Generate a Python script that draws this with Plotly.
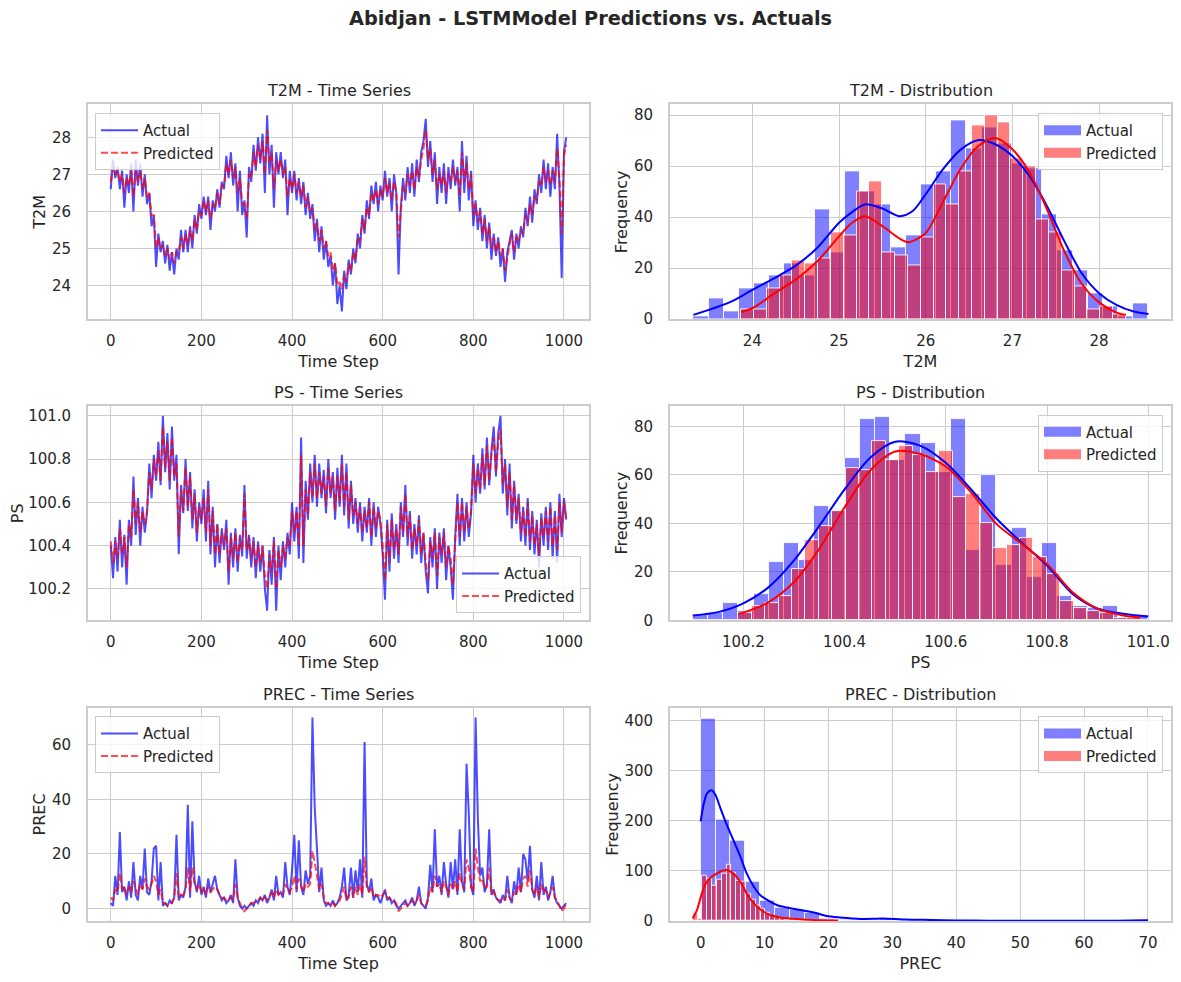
import numpy as np
import plotly.graph_objects as go
from plotly.subplots import make_subplots

# --- Global look (seaborn whitegrid style) ---
PAGE_W, PAGE_H = 1181, 982
OFF = 8                        # default body margin of the html page
Y_SCALE = 0.992                # vertical squeeze seen in the captured page
W, H = PAGE_W - OFF, PAGE_H
TEXT = "#262626"
GRID = "#cccccc"
FONT = "DejaVu Sans"

# --- Time series, sampled every 5th time step ---
T2M_ACTUAL = [
    26.6, 27.4, 26.9, 27.2, 26.6, 27.1, 26.1, 27.0, 26.5, 27.3,
    26.0, 27.4, 26.7, 27.3, 26.4, 27.0, 26.2, 26.5, 25.6, 25.9,
    24.5, 25.4, 24.9, 25.2, 24.6, 25.1, 24.4, 24.9, 24.3, 25.0,
    24.7, 25.5, 24.9, 25.5, 24.9, 25.6, 25.0, 25.9, 25.4, 26.2,
    25.8, 26.4, 25.9, 26.4, 25.5, 26.3, 26.0, 26.6, 26.1, 26.8,
    26.6, 27.5, 26.9, 27.6, 26.7, 27.3, 26.0, 27.1, 25.9, 26.3,
    25.3, 27.2, 26.8, 27.8, 27.1, 28.0, 27.3, 28.1, 26.5, 28.6,
    27.0, 27.8, 26.1, 27.6, 27.0, 27.6, 26.9, 27.4, 25.9, 27.1,
    26.5, 27.1, 26.3, 26.9, 26.2, 26.8, 25.9, 26.5, 25.8, 26.2,
    25.2, 25.8, 24.9, 25.6, 24.7, 25.2, 24.5, 24.8, 24.0, 24.6,
    23.5, 24.0, 23.3, 24.4, 23.9, 24.7, 24.3, 25.0, 24.6, 25.4,
    25.0, 25.9, 25.4, 26.3, 25.8, 26.7, 26.2, 26.8, 26.0, 26.7,
    26.3, 27.1, 26.4, 26.9, 26.0, 27.0, 26.5, 24.3, 26.1, 26.9,
    26.3, 27.2, 26.5, 27.3, 26.4, 27.4, 26.8, 27.6, 27.9, 28.5,
    27.2, 27.9, 26.8, 27.6, 26.2, 27.2, 26.5, 27.3, 26.2, 27.2,
    26.6, 27.4, 26.7, 27.2, 26.0, 27.9, 26.5, 27.5, 26.3, 27.1,
    25.6, 26.3, 25.5, 26.1, 25.2, 25.9, 25.0, 25.7, 24.7, 25.4,
    24.8, 25.3, 24.5, 25.0, 24.1, 24.9, 25.2, 25.5, 24.7, 25.4,
    25.0, 25.6, 25.3, 26.1, 25.6, 26.4, 25.7, 26.6, 26.2, 27.0,
    26.5, 27.4, 26.6, 27.3, 26.4, 27.2, 26.6, 28.1, 26.7, 24.2,
    27.6, 28.0,
]
T2M_PRED = [
    26.8, 27.2, 27.0, 27.1, 26.8, 27.0, 26.5, 26.9, 26.7, 27.1,
    26.4, 27.1, 26.8, 27.1, 26.6, 26.9, 26.4, 26.5, 25.9, 25.9,
    25.0, 25.3, 25.0, 25.1, 24.8, 25.0, 24.7, 24.9, 24.6, 24.9,
    24.9, 25.3, 25.0, 25.4, 25.1, 25.5, 25.2, 25.8, 25.5, 26.0,
    25.9, 26.3, 26.0, 26.3, 25.8, 26.2, 26.1, 26.5, 26.2, 26.7,
    26.7, 27.3, 27.0, 27.4, 26.9, 27.2, 26.5, 26.9, 26.2, 26.2,
    25.8, 27.0, 26.9, 27.6, 27.2, 27.8, 27.4, 27.9, 27.0, 28.2,
    27.3, 27.6, 26.6, 27.4, 27.1, 27.4, 27.0, 27.2, 26.4, 26.9,
    26.6, 27.0, 26.5, 26.8, 26.4, 26.7, 26.1, 26.4, 26.0, 26.1,
    25.5, 25.7, 25.2, 25.5, 25.0, 25.2, 24.8, 24.9, 24.4, 24.6,
    24.0, 24.1, 23.9, 24.3, 24.1, 24.6, 24.4, 24.9, 24.7, 25.3,
    25.2, 25.8, 25.5, 26.1, 25.9, 26.5, 26.3, 26.6, 26.2, 26.6,
    26.4, 26.9, 26.5, 26.8, 26.3, 26.8, 26.5, 25.3, 26.0, 26.7,
    26.5, 27.0, 26.7, 27.1, 26.6, 27.2, 26.9, 27.4, 27.7, 28.2,
    27.4, 27.7, 27.0, 27.4, 26.6, 27.0, 26.7, 27.1, 26.5, 27.0,
    26.8, 27.2, 26.8, 27.1, 26.4, 27.6, 26.8, 27.3, 26.6, 27.0,
    25.9, 26.2, 25.7, 26.0, 25.4, 25.8, 25.2, 25.6, 25.0, 25.3,
    24.9, 25.2, 24.8, 25.0, 24.4, 24.8, 25.1, 25.4, 24.9, 25.3,
    25.2, 25.5, 25.4, 25.9, 25.7, 26.2, 25.9, 26.4, 26.3, 26.8,
    26.7, 27.2, 26.8, 27.1, 26.7, 27.1, 26.8, 27.7, 26.9, 25.4,
    27.5, 27.8,
]
PS_ACTUAL = [
    100.40, 100.25, 100.44, 100.28, 100.52, 100.30, 100.45, 100.22, 100.52, 100.40,
    100.72, 100.45, 100.62, 100.40, 100.58, 100.46, 100.55, 100.78, 100.62, 100.82,
    100.70, 100.88, 100.68, 101.00, 100.74, 100.92, 100.66, 100.95, 100.70, 100.82,
    100.36, 100.68, 100.55, 100.80, 100.56, 100.74, 100.48, 100.66, 100.42, 100.60,
    100.50, 100.66, 100.42, 100.70, 100.36, 100.58, 100.30, 100.50, 100.32, 100.48,
    100.38, 100.52, 100.22, 100.46, 100.30, 100.48, 100.28, 100.45, 100.35, 100.68,
    100.34, 100.45, 100.30, 100.44, 100.25, 100.42, 100.28, 100.40, 100.20, 100.10,
    100.38, 100.22, 100.44, 100.10, 100.40, 100.24, 100.42, 100.30, 100.46, 100.36,
    100.60, 100.42, 100.58, 100.34, 100.90, 100.32, 100.70, 100.52, 100.78, 100.60,
    100.82, 100.58, 100.78, 100.62, 100.75, 100.55, 100.80, 100.62, 100.74, 100.52,
    100.76, 100.58, 100.82, 100.54, 100.78, 100.48, 100.70, 100.50, 100.62, 100.46,
    100.60, 100.42, 100.58, 100.46, 100.62, 100.40, 100.60, 100.44, 100.58, 100.50,
    100.36, 100.15, 100.52, 100.28, 100.55, 100.34, 100.50, 100.32, 100.60, 100.44,
    100.68, 100.40, 100.56, 100.34, 100.50, 100.36, 100.54, 100.32, 100.46, 100.28,
    100.18, 100.44, 100.30, 100.48, 100.20, 100.46, 100.32, 100.48, 100.24, 100.40,
    100.30, 100.15, 100.44, 100.64, 100.40, 100.62, 100.42, 100.60, 100.44, 100.55,
    100.82, 100.60, 100.78, 100.64, 100.85, 100.66, 100.90, 100.68, 100.84, 100.95,
    100.72, 100.92, 101.00, 100.64, 100.80, 100.54, 100.78, 100.48, 100.70, 100.50,
    100.64, 100.42, 100.58, 100.40, 100.62, 100.38, 100.56, 100.36, 100.52, 100.30,
    100.55, 100.40, 100.58, 100.38, 100.60, 100.34, 100.56, 100.32, 100.64, 100.44,
    100.62, 100.52,
]
PS_PRED = [
    100.42, 100.32, 100.42, 100.34, 100.48, 100.36, 100.44, 100.30, 100.50, 100.44,
    100.66, 100.50, 100.60, 100.46, 100.56, 100.50, 100.56, 100.74, 100.66, 100.80,
    100.72, 100.84, 100.70, 100.95, 100.76, 100.88, 100.70, 100.90, 100.72, 100.78,
    100.44, 100.66, 100.56, 100.76, 100.58, 100.72, 100.52, 100.64, 100.46, 100.58,
    100.52, 100.62, 100.46, 100.66, 100.40, 100.56, 100.36, 100.50, 100.36, 100.46,
    100.40, 100.48, 100.28, 100.44, 100.34, 100.46, 100.32, 100.44, 100.38, 100.64,
    100.38, 100.44, 100.34, 100.42, 100.30, 100.40, 100.32, 100.40, 100.26, 100.20,
    100.36, 100.28, 100.42, 100.20, 100.38, 100.30, 100.40, 100.34, 100.44, 100.40,
    100.56, 100.46, 100.56, 100.40, 100.82, 100.40, 100.66, 100.54, 100.74, 100.62,
    100.78, 100.62, 100.74, 100.64, 100.72, 100.58, 100.76, 100.64, 100.72, 100.56,
    100.72, 100.60, 100.78, 100.58, 100.74, 100.52, 100.68, 100.54, 100.60, 100.50,
    100.58, 100.46, 100.56, 100.48, 100.60, 100.44, 100.58, 100.48, 100.56, 100.52,
    100.40, 100.24, 100.50, 100.32, 100.52, 100.38, 100.48, 100.36, 100.58, 100.46,
    100.64, 100.44, 100.54, 100.38, 100.48, 100.40, 100.52, 100.36, 100.46, 100.32,
    100.24, 100.42, 100.34, 100.46, 100.26, 100.44, 100.36, 100.46, 100.30, 100.40,
    100.34, 100.22, 100.42, 100.60, 100.44, 100.60, 100.46, 100.58, 100.48, 100.56,
    100.78, 100.64, 100.76, 100.66, 100.82, 100.68, 100.86, 100.70, 100.82, 100.90,
    100.74, 100.88, 100.94, 100.68, 100.78, 100.58, 100.74, 100.52, 100.68, 100.52,
    100.62, 100.46, 100.56, 100.44, 100.60, 100.42, 100.54, 100.40, 100.50, 100.36,
    100.53, 100.44, 100.56, 100.42, 100.58, 100.40, 100.54, 100.38, 100.60, 100.46,
    100.60, 100.52,
]
PREC_ACTUAL = [
    2, 1, 12, 5, 28, 6, 8, 3, 10, 4,
    17, 5, 3, 12, 7, 22, 6, 5, 10, 22,
    23, 3, 17, 1, 2, 1, 3, 2, 4, 27,
    3, 5, 4, 8, 38, 4, 32, 10, 6, 12,
    5, 8, 4, 11, 6, 9, 12, 7, 5, 3,
    4, 2, 3, 5, 2, 18, 4, 1, 0, 1,
    0, 1, 2, 1, 3, 2, 4, 3, 5, 2,
    4, 7, 3, 12, 5, 6, 4, 17, 8, 5,
    14, 27, 6, 25, 8, 5, 14, 9, 12, 70,
    37, 22, 6, 15, 3, 1, 2, 1, 3, 1,
    2, 4, 8, 15, 3, 5, 15, 4, 14, 6,
    18, 4, 61, 9, 6, 11, 3, 5, 4, 2,
    5, 7, 3, 4, 2, 3, 1, 0, 1, 2,
    3, 1, 2, 4, 1, 3, 8, 2, 1, 0,
    4, 16, 6, 29, 8, 12, 5, 17, 9, 4,
    17, 7, 18, 5, 29, 10, 6, 53, 35, 8,
    5, 70, 33, 12, 15, 6, 9, 29, 5, 7,
    4, 3, 2, 5, 3, 12, 4, 2, 10, 5,
    15, 6, 20, 18, 10, 23, 7, 4, 12, 3,
    17, 5, 8, 3, 6, 12, 4, 2, 1, 0,
    1, 2,
]
PREC_PRED = [
    4, 3, 7, 6, 13, 7, 8, 5, 8, 6,
    10, 7, 5, 9, 7, 11, 8, 7, 9, 12,
    10, 5, 7, 2, 2, 1, 2, 2, 4, 13,
    4, 5, 5, 7, 15, 6, 15, 9, 7, 9,
    6, 7, 5, 8, 6, 7, 8, 7, 5, 4,
    4, 3, 3, 4, 3, 9, 4, 2, 0, -1,
    0, 1, 2, 2, 3, 3, 4, 3, 4, 3,
    4, 6, 4, 7, 5, 6, 5, 9, 7, 6,
    8, 12, 7, 11, 8, 6, 9, 8, 9, 21,
    17, 12, 7, 9, 4, 2, 2, 1, 2, 1,
    2, 3, 5, 8, 3, 4, 8, 4, 8, 5,
    9, 5, 19, 8, 6, 8, 4, 5, 5, 4,
    5, 6, 4, 4, 3, 3, 2, -1, 0, 1,
    2, 1, 2, 3, 2, 3, 5, 2, 1, 1,
    3, 8, 6, 12, 8, 9, 6, 10, 8, 5,
    9, 7, 10, 6, 13, 9, 7, 18, 15, 8,
    6, 22, 15, 10, 11, 7, 8, 15, 5, 6,
    4, 3, 3, 4, 3, 7, 4, 3, 6, 5,
    9, 6, 11, 12, 8, 14, 7, 5, 8, 4,
    9, 6, 7, 4, 6, 8, 4, 3, 1, -1,
    0, 2,
]

# --- Histogram counts (30 bins over each series' own min..max) ---
T2M_ACT_RANGE = (23.32, 28.57)
T2M_ACT_COUNTS = [1, 8, 3, 12, 14, 17, 22, 17, 43, 26, 58, 50, 45, 28, 33,
                  53, 58, 78, 67, 75, 69, 61, 59, 41, 27, 19, 10, 5, 1, 6]
T2M_PRED_RANGE = (23.87, 28.31)
T2M_PRED_COUNTS = [4, 4, 12, 17, 23, 22, 24, 34, 33, 50, 54, 26, 25, 21, 32,
                   53, 45, 58, 76, 80, 77, 63, 60, 39, 34, 19, 13, 4, 5, 2]
PS_ACT_RANGE = (100.10, 101.00)
PS_ACT_COUNTS = [2, 3, 7, 4, 11, 24, 32, 25, 47, 45, 67, 83, 84, 66, 77,
                 73, 61, 83, 29, 60, 23, 38, 18, 32, 10, 6, 5, 6, 1, 2]
PS_PRED_RANGE = (100.19, 100.985)
PS_PRED_COUNTS = [3, 6, 7, 10, 21, 33, 39, 45, 63, 62, 74, 66, 72, 68, 61,
                  70, 51, 52, 40, 30, 31, 34, 26, 19, 8, 5, 4, 3, 1, 1]
PREC_ACT_RANGE = (0.0, 70.0)
PREC_ACT_COUNTS = [405, 203, 160, 78, 40, 26, 22, 16, 5, 3, 3, 3, 4, 2, 1,
                   2, 1, 0, 0, 1, 0, 0, 1, 0, 0, 0, 1, 0, 0, 2]
PREC_PRED_RANGE = (-1.25, 21.5)
PREC_PRED_COUNTS = [15, 5, 90, 85, 70, 82, 95, 112, 96, 80, 78, 55, 42, 30, 24,
                    16, 10, 7, 5, 3, 4, 3, 2, 2, 1, 1, 1, 0, 0, 1]

# --- KDE curves (in count units) ---
T2M_KDE_ACT_X = [23.32, 23.75, 24.0, 24.25, 24.5, 24.75, 25.0, 25.15, 25.3, 25.5, 25.7, 25.85, 26.0,
                 26.2, 26.4, 26.6, 26.8, 27.0, 27.2, 27.4, 27.6, 27.8, 28.0, 28.2, 28.4, 28.57]
T2M_KDE_ACT_Y = [1.7, 6.8, 11.5, 16, 21, 28, 37.8, 42, 45, 43.4, 40.4, 42.4, 49,
                 58.8, 66.4, 70.2, 68.6, 64, 56, 44.3, 30.5, 18, 10.2, 5.6, 3, 2]
T2M_KDE_PRED_X = [23.87, 24.0, 24.25, 24.5, 24.75, 25.0, 25.15, 25.3, 25.5, 25.7, 25.8, 26.0,
                  26.2, 26.4, 26.6, 26.8, 27.0, 27.2, 27.4, 27.6, 27.8, 28.0, 28.2, 28.31]
T2M_KDE_PRED_Y = [2.8, 4.3, 10, 15.5, 22.7, 32.5, 37.8, 40.4, 36.5, 31.6, 30.2, 33.8,
                  46, 58.8, 67.7, 71, 66.6, 57.4, 43, 26.6, 13.9, 6.6, 2.6, 1.7]
PS_KDE_ACT_X = [100.1, 100.15, 100.2, 100.25, 100.3, 100.35, 100.4, 100.45, 100.5, 100.55,
                100.6, 100.65, 100.7, 100.75, 100.8, 100.85, 100.9, 100.95, 101.0]
PS_KDE_ACT_Y = [2, 3.4, 7, 13.7, 24.7, 39, 54, 67, 73.7, 72,
                65, 54, 42, 32, 22.6, 11, 4.8, 2.7, 1.6]
PS_KDE_PRED_X = [100.19, 100.2, 100.25, 100.3, 100.35, 100.4, 100.45, 100.5, 100.55,
                 100.6, 100.65, 100.7, 100.75, 100.8, 100.85, 100.9, 100.95, 100.985]
PS_KDE_PRED_Y = [2.7, 3.2, 7.5, 15.8, 29.5, 46.6, 61.7, 69.7, 68.6,
                 63.5, 52.8, 39.8, 31.6, 23.3, 11.7, 4.8, 2, 1.1]
PREC_KDE_ACT_X = [0, 0.5, 1.0, 1.7, 2.3, 3.1, 4.1, 5.2, 6.2, 7.2, 8.3, 9.3, 10.4, 11.9, 13.5,
                  15.6, 17.7, 19.7, 21.8, 25, 28.5, 32, 36, 40, 45, 50, 55, 60, 65, 70]
PREC_KDE_ACT_Y = [199, 235, 255, 261, 252, 225, 192, 159, 129, 95, 69, 52, 42, 32, 27,
                  22, 17, 10, 7, 4, 5, 3, 2, 1, 0.6, 0.4, 0.3, 0.5, 0.7, 1.5]
PREC_KDE_PRED_X = [-1.25, -0.57, -0.05, 0.47, 1.0, 1.77, 2.55, 3.3, 4.1, 4.9, 5.7,
                   6.5, 7.2, 8.0, 8.8, 9.8, 10.9, 12.4, 14.0, 16.1, 18.7, 21.5]
PREC_KDE_PRED_Y = [5, 22, 45, 65, 79, 89, 95, 100, 102, 97, 87,
                   72, 55, 40, 29, 19, 12, 7, 5, 3, 1.5, 0.8]


def bins(value_range, counts):
    """Bin centres and bin width for an equal-width histogram."""
    lo, hi = value_range
    edges = np.linspace(lo, hi, len(counts) + 1)
    return (edges[:-1] + edges[1:]) / 2, (hi - lo) / len(counts)


def px_x(px):
    # screenshot pixel -> paper x
    return (px - OFF) / W


def px_y(py):
    # screenshot pixel -> paper y
    return 1 - (py / Y_SCALE - OFF) / H


panels = [
    dict(name="T2M", act=T2M_ACTUAL, pred=T2M_PRED,
         hist=[(T2M_ACT_RANGE, T2M_ACT_COUNTS), (T2M_PRED_RANGE, T2M_PRED_COUNTS)],
         kde=[(T2M_KDE_ACT_X, T2M_KDE_ACT_Y), (T2M_KDE_PRED_X, T2M_KDE_PRED_Y)],
         ts_y=dict(range=[23.09, 28.89], dtick=1),
         d_x=dict(range=[23.05, 28.83], dtick=1), d_y=dict(range=[0, 84.2], dtick=20),
         ts_leg=("left", "top")),
    dict(name="PS", act=PS_ACTUAL, pred=PS_PRED,
         hist=[(PS_ACT_RANGE, PS_ACT_COUNTS), (PS_PRED_RANGE, PS_PRED_COUNTS)],
         kde=[(PS_KDE_ACT_X, PS_KDE_ACT_Y), (PS_KDE_PRED_X, PS_KDE_PRED_Y)],
         ts_y=dict(range=[100.055, 101.045], dtick=0.2, tickformat=".1f"),
         d_x=dict(range=[100.055, 101.045], dtick=0.2, tickformat=".1f"),
         d_y=dict(range=[0, 88.4], dtick=20),
         ts_leg=("right", "bottom")),
    dict(name="PREC", act=PREC_ACTUAL, pred=PREC_PRED,
         hist=[(PREC_ACT_RANGE, PREC_ACT_COUNTS), (PREC_PRED_RANGE, PREC_PRED_COUNTS)],
         kde=[(PREC_KDE_ACT_X, PREC_KDE_ACT_Y), (PREC_KDE_PRED_X, PREC_KDE_PRED_Y)],
         ts_y=dict(range=[-4.55, 73.55], dtick=20),
         d_x=dict(range=[-4.8, 73.6], dtick=10), d_y=dict(range=[0, 426], dtick=100),
         ts_leg=("left", "top")),
]

# pixel boxes of the axes frames (screenshot coordinates)
COL_X = [(88, 589), (670, 1171)]
ROW_Y = [(104.5, 319.5), (406.5, 621), (708.5, 922)]

fig = make_subplots(rows=3, cols=2)

axis_style = dict(
    showline=True, mirror=True, linecolor=GRID, linewidth=1.7,
    showgrid=True, gridcolor=GRID, gridwidth=1.1, zeroline=False,
    ticks="", tickfont=dict(size=15, color=TEXT),
    title_font=dict(size=16, color=TEXT),
)

annotations = []
legends = {}
for r, p in enumerate(panels):
    row = r + 1
    y_top, y_bot = ROW_Y[r]
    ydom = [px_y(y_bot), px_y(y_top)]

    # ---- time series ----
    leg_ts = f"legend{2 * r + 1}" if r else "legend"
    steps = list(range(0, 5 * len(p["act"]), 5))
    fig.add_trace(go.Scatter(
        x=steps, y=p["act"], mode="lines", name="Actual",
        line=dict(color="rgba(0,0,255,0.7)", width=2), legend=leg_ts,
    ), row=row, col=1)
    fig.add_trace(go.Scatter(
        x=steps, y=p["pred"], mode="lines", name="Predicted",
        line=dict(color="rgba(255,0,0,0.7)", width=2, dash="7px,3px"), legend=leg_ts,
    ), row=row, col=1)

    # ---- distribution ----
    leg_d = f"legend{2 * r + 2}"
    for (rng, counts), col in zip(p["hist"], ["rgba(0,0,255,0.5)", "rgba(255,0,0,0.5)"]):
        centers, width = bins(rng, counts)
        fig.add_trace(go.Bar(
            x=centers, y=counts, width=width, showlegend=False,
            marker=dict(color=col, line=dict(color="rgba(255,255,255,0.85)", width=1)),
        ), row=row, col=2)
    for (kx, ky), col in zip(p["kde"], ["blue", "red"]):
        fig.add_trace(go.Scatter(
            x=kx, y=ky, mode="lines", showlegend=False,
            line=dict(color=col, width=2, shape="spline", smoothing=0.8),
        ), row=row, col=2)
    # legend swatches drawn as wide patches, like matplotlib
    for name, col in zip(["Actual", "Predicted"], ["rgba(0,0,255,0.5)", "rgba(255,0,0,0.5)"]):
        fig.add_trace(go.Scatter(
            x=[None], y=[None], mode="lines", name=name, legend=leg_d,
            line=dict(color=col, width=10),
        ), row=row, col=2)

    # ---- axes ----
    ts_x = dict(range=[-50.25, 1055.25], dtick=200)
    for c, (xa, ya, xt, yt) in enumerate([
        (ts_x, p["ts_y"], "Time Step", p["name"]),
        (p["d_x"], p["d_y"], p["name"], "Frequency"),
    ]):
        x0, x1 = COL_X[c]
        fig.update_xaxes(domain=[px_x(x0), px_x(x1)], title_text=xt, title_standoff=7,
                         ticklabelstandoff=7, **xa, **axis_style, row=row, col=c + 1)
        fig.update_yaxes(domain=ydom, title_text=yt, title_standoff=2,
                         ticklabelstandoff=12, **ya, **axis_style, row=row, col=c + 1)

        annotations.append(dict(
            text=f"{p['name']} - {'Time Series' if c == 0 else 'Distribution'}",
            x=px_x((x0 + x1) / 2), y=px_y(y_top - 13.5), xref="paper", yref="paper",
            xanchor="center", yanchor="middle", showarrow=False,
            font=dict(size=16, color=TEXT),
        ))

    # ---- legends ----
    leg_common = dict(bgcolor="rgba(255,255,255,0.8)", bordercolor=GRID, borderwidth=1,
                      font=dict(size=15, color=TEXT), itemwidth=37, tracegroupgap=0)
    xa_, ya_ = p["ts_leg"]
    lx = px_x(COL_X[0][0] + 7) if xa_ == "left" else px_x(COL_X[0][1] - 8)
    ly = px_y(y_top + 8.5) if ya_ == "top" else px_y(y_bot - 7)
    legends[leg_ts] = dict(x=lx, y=ly, xanchor=xa_, yanchor=ya_, **leg_common)
    legends[leg_d] = dict(x=px_x(COL_X[1][1] - 8), y=px_y(y_top + 8.5),
                          xanchor="right", yanchor="top", **leg_common)

annotations.append(dict(
    text="<b>Abidjan - LSTMModel Predictions vs. Actuals</b>",
    x=px_x(PAGE_W / 2), y=px_y(18), xref="paper", yref="paper",
    xanchor="center", yanchor="middle", showarrow=False,
    font=dict(size=19.3, color=TEXT),
))

fig.update_layout(
    width=W, height=H,
    margin=dict(l=0, r=0, t=0, b=0),
    paper_bgcolor="white", plot_bgcolor="white",
    font=dict(family=FONT, color=TEXT),
    barmode="overlay", bargap=0,
    annotations=annotations,
    **legends,
)

fig.write_html("out.html")
